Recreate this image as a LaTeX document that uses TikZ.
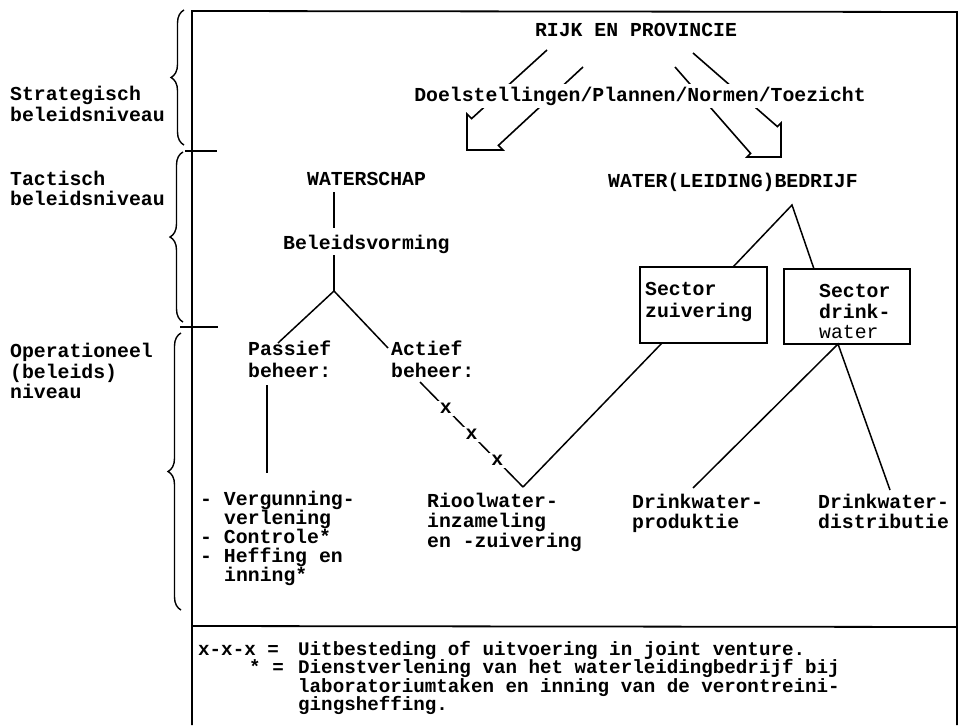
\documentclass[tikz,border=0pt]{standalone}
\usepackage{fontspec}
\setmainfont{Liberation Mono}
\usetikzlibrary{decorations.pathreplacing}
\newcommand\mainf{\fontsize{19.8}{20}\selectfont\bfseries}
\newcommand\legf{\fontsize{19.2}{20}\selectfont\bfseries}
\begin{document}
\begin{tikzpicture}[x=1pt,y=-1pt,
  lbl/.style={anchor=base west,inner sep=0pt,font=\mainf},
  ctr/.style={anchor=base,inner sep=0pt,font=\mainf},
  leg/.style={anchor=base west,inner sep=0pt,font=\legf},
  ln/.style={line width=1.5pt},
  frame/.style={line width=1.8pt},
  bx/.style={draw,line width=1.6pt,inner sep=0pt},
  xmark/.style={fill=white,inner sep=2.5pt,font=\mainf},
  hollow/.style={line width=1.6pt,line join=miter},
  brc/.style={line width=1.4pt,decorate,decoration={brace,amplitude=13pt}}]
\useasboundingbox (0,0) rectangle (960,725);

% frame
\draw[frame] (192,725) -- (192,11) -- (957,12) -- (957,725);
\draw[frame] (185,151) -- (217,151);
\draw[frame] (180,327) -- (218,327);
\draw[frame] (192,626) -- (956,627);

% braces
\draw[brc] (184,145) -- (184,10);
\draw[brc] (183,322) -- (183,152);
\draw[brc] (181,610) -- (181,333);

% level labels
\node[lbl] (s1) at (10,100) {Strategisch};
\node[lbl] (s2) at (10,121) {beleidsniveau};
\node[lbl] (t1) at (10,185) {Tactisch};
\node[lbl] (t2) at (10,205) {beleidsniveau};
\node[lbl] (o1) at (10,357) {Operationeel};
\node[lbl] (o2) at (10,378) {(beleids)};
\node[lbl] (o3) at (10,398) {niveau};

% top
\node[ctr] (rijk) at (636,37) {RIJK EN PROVINCIE};
% hollow arrows
\draw[hollow] (547,50) -- (471.6,118.6) -- (467,114) -- (467,150) -- (503,150) -- (498.4,145.4) -- (583,67);
\draw[hollow] (693,53) -- (777.4,126.6) -- (781,123) -- (781,157) -- (747,157) -- (750.6,153.4) -- (675,67);
\node[ctr,fill=white,inner ysep=3pt] (doel) at (640,101) {Doelstellingen/Plannen/Normen/Toezicht};

% waterschap branch
\node[lbl] (ws) at (307,185) {WATERSCHAP};
\node[lbl] (bv) at (283,249) {Beleidsvorming};
\coordinate (wsB) at (334,192);
\coordinate (bvT) at (334,228);
\coordinate (bvB) at (334,255);
\coordinate (fork) at (334,291);
\coordinate (pasT) at (278,343);
\coordinate (actT) at (388,348);
\draw[ln] (wsB) -- (bvT);
\draw[ln] (bvB) -- (fork);
\draw[ln] (pasT) -- (fork) -- (actT);

\node[lbl] (pas1) at (248,355) {Passief};
\node[lbl] (pas2) at (248,377) {beheer:};
\node[lbl] (act1) at (391,355) {Actief};
\node[lbl] (act2) at (391,377) {beheer:};

\coordinate (pasB) at (267,385);
\coordinate (vergT) at (267,473);
\draw[ln] (pasB) -- (vergT);

\node[lbl] (v1) at (200,505) {- Vergunning-};
\node[lbl] (v2) at (224,524) {verlening};
\node[lbl] (v3) at (200,543) {- Controle*};
\node[lbl] (v4) at (200,562) {- Heffing en};
\node[lbl] (v5) at (224,581) {inning*};

\node[lbl] (r1) at (427,507) {Rioolwater-};
\node[lbl] (r2) at (427,527) {inzameling};
\node[lbl] (r3) at (427,547) {en -zuivering};

\coordinate (actB) at (420,382);
\coordinate (rioolT) at (523,487);
\draw[ln] (actB) -- node[pos=.25,xmark]{x} node[pos=.5,xmark]{x} node[pos=.75,xmark]{x} (rioolT);

% water(leiding)bedrijf branch
\node[lbl] (wb) at (608,187) {WATER(LEIDING)BEDRIJF};
\node[bx,minimum width=127pt,minimum height=76pt] (sz) at (703.5,305) {};
\node[bx,minimum width=126pt,minimum height=75pt] (sd) at (847,306.5) {};
\node[lbl] (sz1) at (645,295) {Sector};
\node[lbl] (sz2) at (645,317) {zuivering};
\node[lbl] (sd1) at (819,297) {Sector};
\node[lbl] (sd2) at (819,318) {drink-};
\node[lbl,font=\fontsize{19.8}{20}\selectfont] (sd3) at (819,338) {water};

\coordinate (wbB) at (792,205);
\coordinate (szT) at (733,267);
\coordinate (sdT) at (814,269);
\draw[ln] (szT) -- (wbB) -- (sdT);
\coordinate (szB) at (662,343);
\draw[ln] (rioolT) -- (szB);
\coordinate (sdB) at (838,344);
\coordinate (prodT) at (693,488);
\coordinate (distT) at (890,490);
\draw[ln] (prodT) -- (sdB) -- (distT);

\node[lbl] (p1) at (632,508) {Drinkwater-};
\node[lbl] (p2) at (632,528) {produktie};
\node[lbl] (d1) at (818,508) {Drinkwater-};
\node[lbl] (d2) at (818,528) {distributie};

% legend
\node[leg] (l0) at (198,655) {x-x-x =};
\node[leg] (l1) at (298,655) {Uitbesteding of uitvoering in joint venture.};
\node[leg,anchor=base east] (l2a) at (284,673) {* =};
\node[leg] (l2) at (298,673) {Dienstverlening van het waterleidingbedrijf bij};
\node[leg] (l3) at (298,692) {laboratoriumtaken en inning van de verontreini-};
\node[leg] (l4) at (298,710) {gingsheffing.};
\end{tikzpicture}
\end{document}
